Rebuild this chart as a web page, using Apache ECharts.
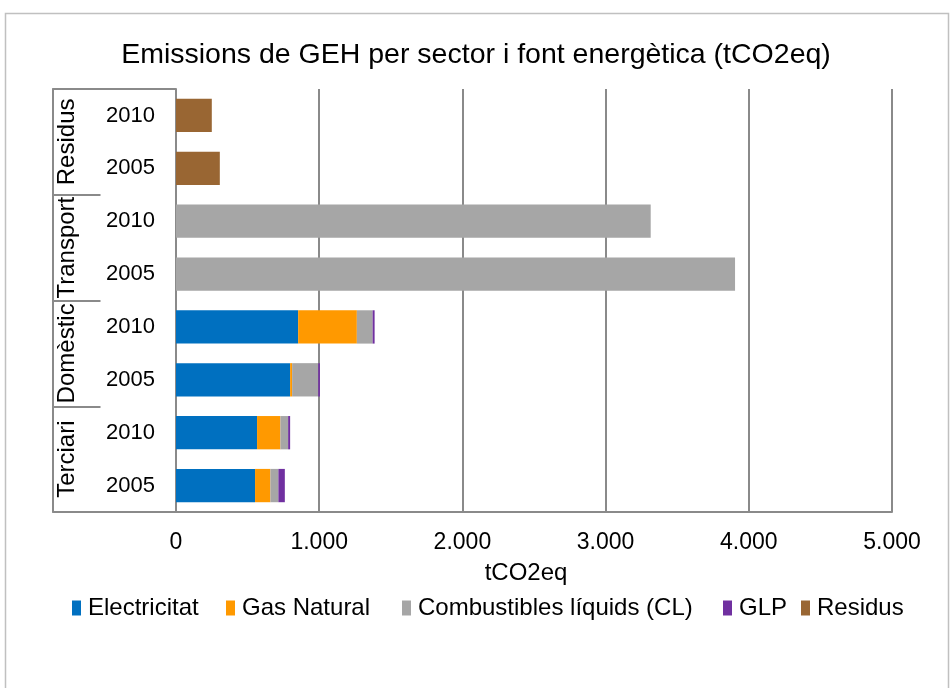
<!DOCTYPE html>
<html>
<head>
<meta charset="utf-8">
<script src="https://cdn.jsdelivr.net/npm/echarts@6/dist/echarts.min.js"></script>
<style>
  html, body { margin: 0; padding: 0; background: #fff; }
  #chart { width: 952px; height: 688px; }
</style>
</head>
<body>
<div id="chart"></div>
<script>
// Rows from bottom to top: sector / year
const sectors = ['Terciari', 'Domèstic', 'Transport', 'Residus'];
const years = ['2005', '2010', '2005', '2010', '2005', '2010', '2005', '2010'];

// Emissions per energy source, tCO2eq (same row order as years)
const electricitat = [552, 566, 797, 853, 0, 0, 0, 0];
const gasNatural   = [107, 163, 14, 410, 0, 0, 0, 0];
const combLiquids  = [56, 54, 182, 110, 3904, 3315, 0, 0];
const glp          = [45, 14, 12, 14, 0, 0, 0, 0];
const residus      = [0, 0, 0, 0, 0, 0, 306, 250];

const xTicks = { min: 0, max: 5000, interval: 1000 };

const FONT = '"Liberation Sans", Arial, sans-serif';
const LINE = '#8a8a8a';

function thousands(v) {
  return String(v).replace(/\B(?=(\d{3})+(?!\d))/g, '.');
}

const chart = echarts.init(document.getElementById('chart'));

const seriesDefs = [
  { name: 'Electricitat', data: electricitat, color: '#0070C0' },
  { name: 'Gas Natural', data: gasNatural, color: '#FF9900' },
  { name: 'Combustibles líquids (CL)', data: combLiquids, color: '#A6A6A6' },
  { name: 'GLP', data: glp, color: '#7030A0' },
  { name: 'Residus', data: residus, color: '#996633' }
];

// Legend entries laid out on fixed columns
const legendLeft = [72, 226, 402, 723, 801];

chart.setOption({
  animation: false,
  backgroundColor: '#fff',
  textStyle: { fontFamily: FONT },
  title: {
    text: 'Emissions de GEH per sector i font energètica (tCO2eq)',
    left: 'center',
    top: 36,
    textStyle: { fontFamily: FONT, fontSize: 28.5, fontWeight: 'normal', color: '#000' }
  },
  legend: seriesDefs.map((s, i) => ({
    top: 596,
    left: legendLeft[i],
    padding: 0,
    itemWidth: 9,
    itemHeight: 15,
    itemGap: 0,
    icon: 'rect',
    textStyle: { fontFamily: FONT, fontSize: 24, color: '#000', padding: [0, 0, 0, 2] },
    data: [s.name]
  })),
  graphic: [{
    type: 'rect',
    shape: { x: 5.5, y: 13.5, width: 943, height: 700 },
    style: { fill: 'none', stroke: '#c0c0c0', lineWidth: 1.5 },
    silent: true
  }],
  grid: { left: 176, right: 60, top: 89, bottom: 176, containLabel: false },
  xAxis: {
    type: 'value',
    min: xTicks.min,
    max: xTicks.max,
    interval: xTicks.interval,
    name: 'tCO2eq',
    nameLocation: 'middle',
    nameGap: 49,
    nameTextStyle: { fontFamily: FONT, fontSize: 24, color: '#000', padding: [0, 16, 0, 0] },
    axisLine: { show: true, lineStyle: { color: LINE, width: 2 } },
    axisTick: { show: false },
    splitLine: { show: true, lineStyle: { color: LINE, width: 2 } },
    axisLabel: { fontFamily: FONT, fontSize: 23, color: '#000', margin: 19, formatter: thousands }
  },
  yAxis: [
    {
      type: 'category',
      data: years,
      axisLine: { show: true, lineStyle: { color: LINE, width: 2 } },
      axisTick: { show: false },
      axisLabel: { fontFamily: FONT, fontSize: 22, color: '#000', margin: 21 }
    },
    {
      type: 'category',
      data: sectors,
      position: 'left',
      offset: 123.5,
      axisLine: { show: true, lineStyle: { color: LINE, width: 2 } },
      axisTick: { show: true, inside: true, length: 48, interval: 0, lineStyle: { color: LINE, width: 2 } },
      axisLabel: {
        inside: true, rotate: 90, margin: 3, interval: 0,
        align: 'center', verticalAlign: 'top',
        fontFamily: FONT, fontSize: 24, color: '#000'
      }
    },
    {
      type: 'category',
      data: [''],
      position: 'left',
      offset: 123.5,
      axisLine: { show: false },
      axisTick: { show: true, inside: true, length: 123.5, interval: 0, lineStyle: { color: LINE, width: 2 } },
      axisLabel: { show: false }
    }
  ],
  series: seriesDefs.map(s => ({
    name: s.name,
    type: 'bar',
    stack: 'total',
    yAxisIndex: 0,
    barCategoryGap: '37%',
    itemStyle: { color: s.color },
    data: s.data
  }))
});
</script>
</body>
</html>
